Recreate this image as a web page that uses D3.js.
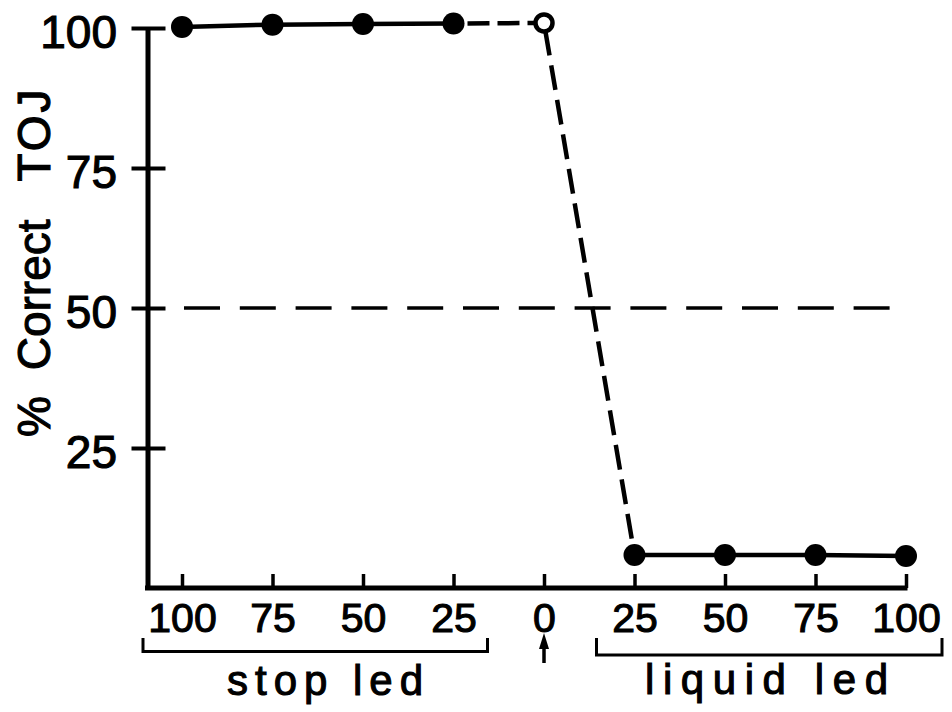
<!DOCTYPE html>
<html>
<head>
<meta charset="utf-8">
<script src="https://cdn.jsdelivr.net/npm/d3@7"></script>
<style>
  html, body { margin: 0; padding: 0; background: #fff; }
  svg { display: block; }
  text { font-family: "Liberation Sans", Arial, sans-serif; fill: #000; stroke: #000; stroke-width: 1.1px; }
</style>
</head>
<body>
<svg id="chart" width="952" height="712"></svg>
<script>
// ---- data ----
const xTickLabels = ["100", "75", "50", "25", "0", "25", "50", "75", "100"];
const stopLedValues = [100.2, 100.6, 100.7, 100.8];   // filled points, solid line
const zeroValue = 100.9;                              // open point at 0
const liquidLedValues = [5.9, 5.9, 5.9, 5.7];         // filled points, solid line
const yTickValues = [25, 50, 75, 100];
const chanceLevel = 50;
const groupLabels = ["stop led", "liquid led"];
const yLabel = ["%", "Correct", "TOJ"];

// ---- layout ----
const svg = d3.select("#chart");
const axisX = 147.5, axisY = 588;
const x = d3.scaleLinear().domain([0, xTickLabels.length - 1]).range([182, 906]);
const y = d3.scaleLinear().domain([0, 100]).range([axisY, 28]);

// ---- y axis ----
const yAxis = d3.axisLeft(y).tickValues(yTickValues).tickSize(16).tickSizeOuter(0).tickPadding(14.5);
const gy = svg.append("g").attr("transform", `translate(${axisX},0)`).call(yAxis);
gy.select(".domain").attr("stroke", "#000").attr("stroke-width", 5);
gy.selectAll(".tick line").attr("stroke", "#000").attr("stroke-width", 4).attr("x1", 18);
gy.selectAll(".tick text").attr("font-size", 46).attr("dy", "0.42em")
  .attr("font-family", "Liberation Sans, Arial, sans-serif").attr("fill", "#000");

// ---- x axis ----
const xAxis = d3.axisBottom(x).tickValues(d3.range(xTickLabels.length))
  .tickFormat(i => xTickLabels[i]).tickSize(-14).tickSizeOuter(0).tickPadding(15);
const gx = svg.append("g").attr("transform", `translate(0,${axisY})`).call(xAxis);
gx.select(".domain").remove();
gx.selectAll(".tick line").attr("stroke", "#000").attr("stroke-width", 3.5);
gx.selectAll(".tick text").attr("font-size", 41)
  .attr("font-family", "Liberation Sans, Arial, sans-serif").attr("fill", "#000");
// baseline of x axis from y axis to last tick
svg.append("line")
  .attr("x1", axisX - 2.5).attr("x2", x(xTickLabels.length - 1) + 1.5)
  .attr("y1", axisY).attr("y2", axisY)
  .attr("stroke", "#000").attr("stroke-width", 5);

// ---- chance line ----
svg.append("line")
  .attr("x1", 184).attr("x2", 890)
  .attr("y1", y(chanceLevel)).attr("y2", y(chanceLevel))
  .attr("stroke", "#000").attr("stroke-width", 3.5)
  .attr("stroke-dasharray", "36,19.8");

// ---- data ----
const stopPts = stopLedValues.map((v, i) => [x(i), y(v)]);
const zeroPt = [x(4), y(zeroValue)];
const liqPts = liquidLedValues.map((v, i) => [x(5 + i), y(v)]);
const line = d3.line();

svg.append("path").attr("d", line(stopPts)).attr("fill", "none")
  .attr("stroke", "#000").attr("stroke-width", 4.5);
svg.append("path").attr("d", line(liqPts)).attr("fill", "none")
  .attr("stroke", "#000").attr("stroke-width", 4.5);
svg.append("path").attr("d", line([stopPts[3], zeroPt])).attr("fill", "none")
  .attr("stroke", "#000").attr("stroke-width", 4.5).attr("stroke-dasharray", "22,8")
  .attr("stroke-dashoffset", -14);
svg.append("path").attr("d", line([zeroPt, liqPts[0]])).attr("fill", "none")
  .attr("stroke", "#000").attr("stroke-width", 4.5).attr("stroke-dasharray", "25,10")
  .attr("stroke-dashoffset", -8);

svg.selectAll("circle.filled").data(stopPts.concat(liqPts)).join("circle")
  .attr("class", "filled").attr("cx", d => d[0]).attr("cy", d => d[1]).attr("r", 11)
  .attr("fill", "#000");
svg.append("circle").attr("cx", zeroPt[0]).attr("cy", zeroPt[1]).attr("r", 8.5)
  .attr("fill", "#fff").attr("stroke", "#000").attr("stroke-width", 4.5);

// ---- brackets ----
function bracket(x1, x2, yb, ytop) {
  svg.append("path")
    .attr("d", `M${x1},${ytop}V${yb}H${x2}V${ytop}`)
    .attr("fill", "none").attr("stroke", "#000").attr("stroke-width", 3);
}
bracket(x(0) - 39, x(3) + 34, 651.5, 638);
bracket(x(5) - 38, x(8) + 36, 655, 638);

// arrow under 0
svg.append("line").attr("x1", x(4)).attr("x2", x(4)).attr("y1", 663).attr("y2", 644)
  .attr("stroke", "#000").attr("stroke-width", 3.5);
svg.append("path")
  .attr("d", `M${x(4)},633L${x(4) - 5},649L${x(4) + 5},649Z`)
  .attr("fill", "#000");

// group labels
svg.append("text").attr("x", 227).attr("y", 695).attr("font-size", 42)
  .attr("textLength", 196).attr("lengthAdjust", "spacing").text(groupLabels[0]);
svg.append("text").attr("x", 645).attr("y", 694).attr("font-size", 42)
  .attr("textLength", 243).attr("lengthAdjust", "spacing").text(groupLabels[1]);

// y label
const yl = svg.append("text").attr("transform", "translate(50,437) rotate(-90)")
  .attr("font-size", 46);
yl.append("tspan").text(yLabel[0]);
yl.append("tspan").attr("dx", 13).text(" " + yLabel[1]);
yl.append("tspan").attr("dx", 23).attr("letter-spacing", 3).text(" " + yLabel[2]);
</script>
</body>
</html>
